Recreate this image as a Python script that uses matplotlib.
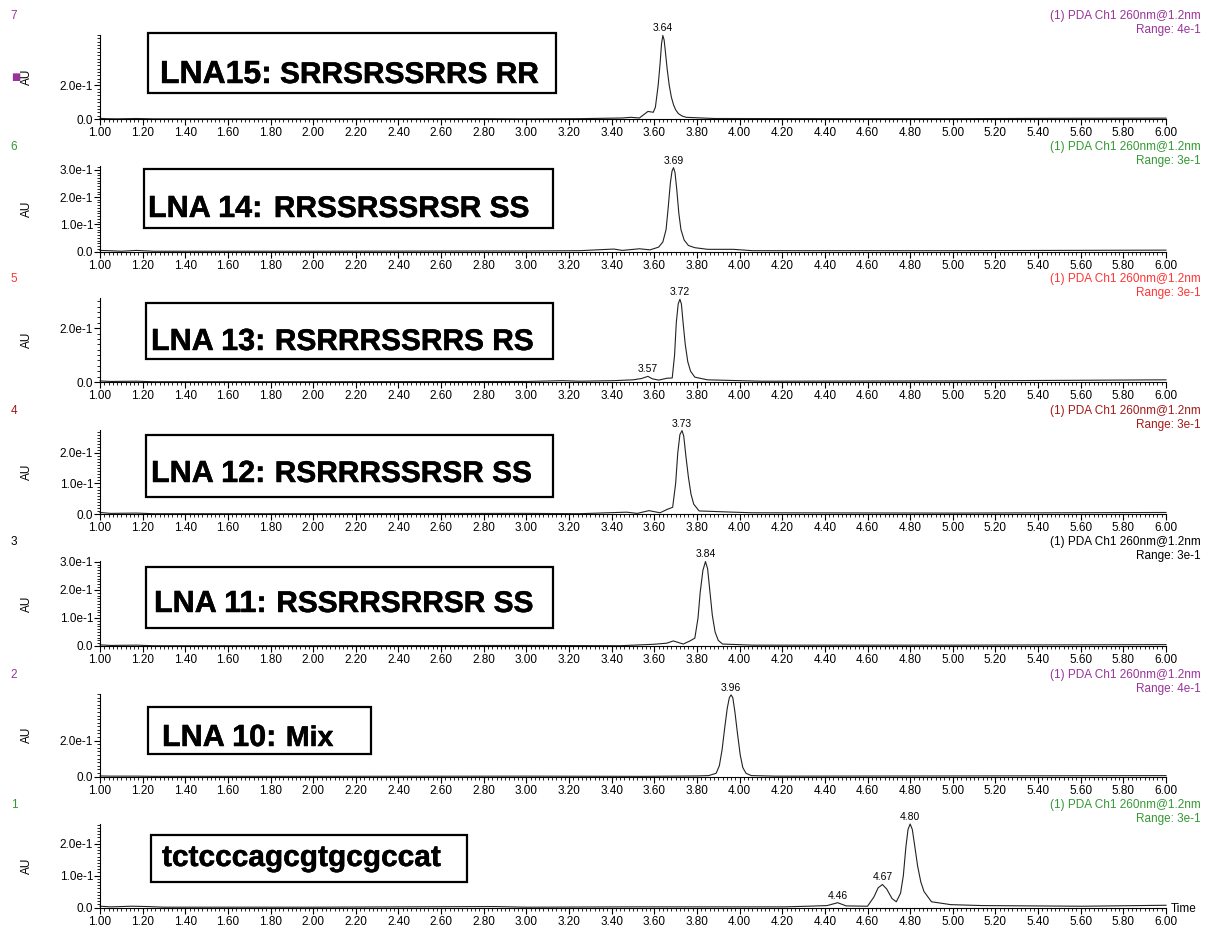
import matplotlib
matplotlib.use("Agg")
import matplotlib.pyplot as plt
import matplotlib.patheffects as pe
import numpy as np
from matplotlib.patches import Rectangle
from matplotlib.ticker import MultipleLocator, FuncFormatter, FormatStrFormatter

plt.rcParams['font.family'] = 'Liberation Sans'

W, H = 1214, 930

# retention time (min) / absorbance (AU) traces, channel 7 down to channel 1
lna15_t = [1.00, 1.03, 1.08, 1.17, 1.25, 2.00, 2.80, 3.00, 3.25, 3.45, 3.49, 3.53, 3.57, 3.595,
           3.605, 3.618, 3.627, 3.634, 3.64, 3.646, 3.652, 3.66, 3.67, 3.68, 3.69, 3.70, 3.713,
           3.73, 3.75, 3.88, 4.50, 5.00, 5.50, 6.00]
lna15_au = [0.004, 0.002, 0.001, 0.003, 0.001, 0.001, 0.002, 0.001, 0.002, 0.006, 0.010, 0.006,
            0.045, 0.040, 0.070, 0.200, 0.330, 0.450, 0.497, 0.470, 0.400, 0.300, 0.200, 0.130,
            0.085, 0.055, 0.032, 0.018, 0.010, 0.003, 0.002, 0.002, 0.004, 0.005]

lna14_t = [1.00, 1.04, 1.10, 1.17, 1.25, 2.00, 3.00, 3.25, 3.41, 3.45, 3.53, 3.58, 3.62, 3.64,
           3.655, 3.665, 3.675, 3.683, 3.69, 3.697, 3.705, 3.715, 3.725, 3.74, 3.76, 3.79, 3.85,
           3.97, 4.06, 5.00, 6.00]
lna14_au = [0.004, 0.003, 0.001, 0.004, 0.001, 0.001, 0.002, 0.003, 0.009, 0.004, 0.010, 0.006,
            0.016, 0.035, 0.080, 0.160, 0.250, 0.295, 0.308, 0.290, 0.230, 0.140, 0.080, 0.042,
            0.022, 0.014, 0.008, 0.008, 0.003, 0.003, 0.005]

lna13_t = [1.00, 1.05, 1.17, 1.25, 2.00, 3.00, 3.17, 3.25, 3.41, 3.50, 3.54, 3.57, 3.59, 3.62,
           3.66, 3.684, 3.695, 3.703, 3.712, 3.72, 3.727, 3.735, 3.745, 3.757, 3.77, 3.79, 3.85,
           4.10, 5.00, 6.00]
lna13_au = [0.004, 0.002, 0.003, 0.001, 0.001, 0.002, 0.005, 0.003, 0.005, 0.008, 0.013, 0.021,
            0.012, 0.007, 0.014, 0.015, 0.100, 0.220, 0.290, 0.307, 0.290, 0.220, 0.140, 0.075,
            0.040, 0.018, 0.008, 0.003, 0.004, 0.008]

lna12_t = [1.00, 1.05, 1.17, 1.25, 2.00, 3.00, 3.25, 3.47, 3.52, 3.575, 3.627, 3.66, 3.686, 3.70,
           3.71, 3.72, 3.73, 3.738, 3.748, 3.76, 3.772, 3.785, 3.81, 3.97, 4.06, 5.00, 6.00]
lna12_au = [0.005, 0.002, 0.003, 0.001, 0.001, 0.002, 0.001, 0.006, 0.002, 0.011, 0.004, 0.015,
            0.022, 0.100, 0.200, 0.260, 0.273, 0.255, 0.190, 0.120, 0.065, 0.032, 0.010, 0.006,
            0.004, 0.003, 0.005]

lna11_t = [1.00, 1.05, 1.17, 1.25, 2.00, 3.00, 3.44, 3.595, 3.658, 3.689, 3.736, 3.767, 3.79,
           3.805, 3.815, 3.828, 3.84, 3.85, 3.86, 3.872, 3.885, 3.90, 3.92, 4.06, 5.00, 6.00]
lna11_au = [0.004, 0.002, 0.003, 0.001, 0.001, 0.002, 0.001, 0.006, 0.010, 0.018, 0.007, 0.018,
            0.028, 0.100, 0.190, 0.270, 0.301, 0.275, 0.200, 0.110, 0.050, 0.020, 0.007, 0.003,
            0.003, 0.005]

lna10_t = [1.00, 1.05, 1.17, 1.25, 2.00, 3.00, 3.54, 3.80, 3.855, 3.89, 3.905, 3.918, 3.93,
           3.942, 3.952, 3.96, 3.968, 3.978, 3.99, 4.003, 4.015, 4.03, 4.055, 4.17, 5.00, 6.00]
lna10_au = [0.003, 0.002, 0.002, 0.001, 0.001, 0.002, 0.001, 0.003, 0.005, 0.018, 0.060, 0.150,
            0.270, 0.380, 0.440, 0.455, 0.440, 0.360, 0.240, 0.120, 0.050, 0.018, 0.005, 0.002,
            0.003, 0.005]

dna_t = [1.00, 1.05, 1.15, 1.22, 1.30, 2.00, 2.85, 3.00, 3.50, 4.05, 4.21, 4.32, 4.41, 4.46,
         4.50, 4.60, 4.63, 4.65, 4.67, 4.69, 4.715, 4.735, 4.755, 4.768, 4.78, 4.79, 4.80, 4.81,
         4.82, 4.835, 4.85, 4.865, 4.90, 4.99, 5.14, 5.61, 6.00]
dna_au = [0.004, 0.002, 0.004, 0.003, 0.001, 0.001, 0.003, 0.001, 0.002, 0.002, 0.002, 0.004,
          0.006, 0.015, 0.005, 0.004, 0.033, 0.062, 0.072, 0.058, 0.028, 0.018, 0.045, 0.100,
          0.190, 0.245, 0.262, 0.245, 0.200, 0.130, 0.080, 0.050, 0.018, 0.009, 0.006, 0.004,
          0.007]

traces = [(lna15_t, lna15_au), (lna14_t, lna14_au), (lna13_t, lna13_au), (lna12_t, lna12_au),
          (lna11_t, lna11_au), (lna10_t, lna10_au), (dna_t, dna_au)]

channels = [7, 6, 5, 4, 3, 2, 1]
ch_colors = ['#993399', '#339933', '#ff3333', '#a31a1a', '#000000', '#993399', '#339933']
ranges = ['4e-1', '3e-1', '3e-1', '3e-1', '3e-1', '4e-1', '3e-1']
peaks = [[3.64], [3.69], [3.57, 3.72], [3.73], [3.84], [3.96], [4.46, 4.67, 4.80]]
names = [('LNA15:', 'SRRSRSSRRS RR'), ('LNA 14:', 'RRSSRSSRSR SS'), ('LNA 13:', 'RSRRRSSRRS RS'),
         ('LNA 12:', 'RSRRRSSRSR SS'), ('LNA 11:', 'RSSRRSRRSR SS'), ('LNA 10:', 'Mix'),
         ('tctcccagcgtgcgccat', '')]
y_tops = [0.50, 0.314, 0.312, 0.275, 0.303, 0.46, 0.262]
y_ticks = [[0, 0.2], [0, 0.1, 0.2, 0.3], [0, 0.2], [0, 0.1, 0.2], [0, 0.1, 0.2, 0.3], [0, 0.2],
           [0, 0.1, 0.2]]

# layout in pixels: axes top/bottom, label boxes, label text origin
ax_tb = [(35, 119), (166, 251.5), (298, 382), (430, 514), (561, 646), (694, 776.5), (824, 907.5)]
boxes = [(148, 33, 556, 93), (144, 169, 553, 228), (146, 303, 553, 359), (146, 435, 553, 497),
         (146, 567, 553, 628), (148, 707, 371, 754), (151, 835, 467, 882)]
text_xy = [(160, 83), (148, 217), (151, 350), (151, 482), (154, 612), (162, 746), (162, 866)]
big_fs = [23, 22, 22, 22, 22, 22, 21.5]
small_fs = [21.5, 21.5, 21.5, 21.5, 21.5, 20.5, 21.5]
name_gap = [8, 12, 10, 10, 10, 10, 0]


def fx(x):
    return x / W


def fy(y):
    return 1 - y / H


def au_fmt(v, pos):
    if abs(v) < 1e-9:
        return '0.0'
    return '{:.1f}e-1'.format(v * 10)


heavy = [pe.withStroke(linewidth=0.35, foreground='black')]

fig = plt.figure(figsize=(W / 100, H / 100), dpi=100)
renderer = fig.canvas.get_renderer()

for i in range(len(channels)):
    top, bot = ax_tb[i]
    ax = fig.add_axes([fx(100), fy(bot), fx(1166) - fx(100), (bot - top) / H])
    t, au = traces[i]
    ax.plot(t, au, color='#222222', lw=0.8, clip_on=False)
    ax.set_xlim(1, 6)
    ax.set_ylim(0, y_tops[i])
    for s in ['top', 'right']:
        ax.spines[s].set_visible(False)
    for s in ['left', 'bottom']:
        ax.spines[s].set_linewidth(0.8)
    ax.xaxis.set_major_locator(MultipleLocator(0.2))
    ax.xaxis.set_minor_locator(MultipleLocator(0.02))
    ax.xaxis.set_major_formatter(FormatStrFormatter('%.2f'))
    ax.set_yticks(y_ticks[i])
    step = y_ticks[i][1]
    ax.yaxis.set_minor_locator(MultipleLocator(step / 10))
    ax.yaxis.set_major_formatter(FuncFormatter(au_fmt))
    ax.tick_params(which='major', direction='out', length=4, width=0.8, labelsize=8.5, pad=1)
    ax.tick_params(which='minor', direction='out', length=2.2, width=0.6)
    ax.tick_params(axis='x', which='major', pad=2)

    for p in peaks[i]:
        ax.annotate('{:.2f}'.format(p), xy=(p, np.interp(p, t, au)), xytext=(0, 1.5),
                    textcoords='offset points', ha='center', va='bottom', fontsize=7.5,
                    annotation_clip=False)

    # channel header
    fig.text(fx(14), fy(top - 19), str(channels[i]), color=ch_colors[i], fontsize=8.5,
             ha='center', va='center')
    fig.text(fx(1201), fy(top - 19), '(1) PDA Ch1 260nm@1.2nm', color=ch_colors[i],
             fontsize=8.5, ha='right', va='center')
    fig.text(fx(1201), fy(top - 5), 'Range: ' + ranges[i], color=ch_colors[i],
             fontsize=8.5, ha='right', va='center')
    fig.text(fx(27), fy((top + bot) / 2), 'AU', rotation=90, fontsize=8.5,
             ha='center', va='center')

    # sample name box
    x0, y0, x1, y1 = boxes[i]
    fig.add_artist(Rectangle((fx(x0), fy(y1)), fx(x1) - fx(x0), (y1 - y0) / H,
                             transform=fig.transFigure, fill=False, ec='black', lw=1.6))
    big, small = names[i]
    tx, ty = text_xy[i]
    t1 = fig.text(fx(tx), fy(ty), big, fontsize=big_fs[i], fontweight='bold',
                  ha='left', va='baseline', path_effects=heavy)
    if small:
        bb = t1.get_window_extent(renderer=renderer)
        fig.text((bb.x1 + name_gap[i]) / W, fy(ty), small, fontsize=small_fs[i],
                 fontweight='bold', ha='left', va='baseline', path_effects=heavy)

# marker next to the top channel's axis label
fig.text(fx(16), fy(77), '\u25a0', color='#993399', fontsize=7, ha='center', va='center',
         family='DejaVu Sans')
fig.text(fx(1171), fy(909), 'Time', fontsize=8.5, ha='left', va='center')

fig.savefig('out.png', dpi=100)
